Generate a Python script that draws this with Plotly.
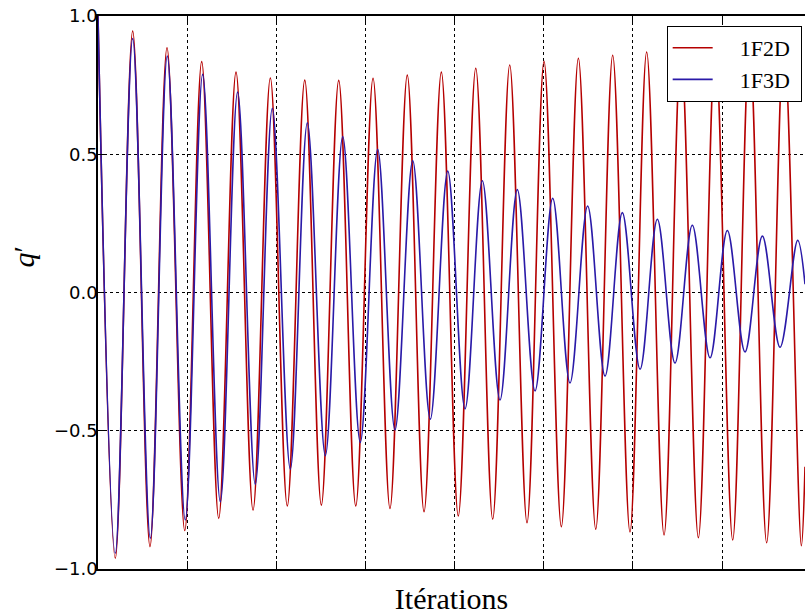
import plotly.graph_objects as go

# Iteration positions and values of the extrema
red_peak_x = [0, 389, 774, 1163, 1548, 1933, 2319, 2700, 3085, 3469, 3851,
              4237, 4618, 5003, 5388, 5773, 6154, 6539, 6924, 7308, 7693]
red_peak_y = [1.0, 0.946, 0.885, 0.835, 0.797, 0.776, 0.768, 0.767, 0.775, 0.786, 0.797,
              0.811, 0.823, 0.836, 0.847, 0.858, 0.870, 0.880, 0.890, 0.900, 0.910]
red_trough_x = [194, 583, 973, 1354, 1739, 2123, 2505, 2891, 3275, 3657,
                4041, 4427, 4812, 5197, 5583, 5967, 6349, 6734, 7119, 7500, 7889]
red_trough_y = [-0.961, -0.919, -0.861, -0.817, -0.787, -0.772, -0.769, -0.772, -0.781, -0.793,
                -0.808, -0.820, -0.833, -0.847, -0.856, -0.866, -0.877, -0.887, -0.895, -0.905, -0.916]
red_end_x = [7930]
red_end_y = [-0.63]

blue_peak_x = [0, 389, 777, 1174, 1566, 1955, 2348, 2745, 3137, 3530, 3923,
               4311, 4703, 5100, 5492, 5881, 6274, 6666, 7059, 7452, 7848]
blue_peak_y = [1.0, 0.918, 0.855, 0.789, 0.725, 0.666, 0.614, 0.564, 0.518, 0.477, 0.439,
               0.404, 0.372, 0.341, 0.313, 0.289, 0.265, 0.243, 0.224, 0.204, 0.189]
blue_trough_x = [194, 587, 979, 1372, 1764, 2157, 2550, 2942, 3331, 3727,
                 4117, 4509, 4902, 5294, 5687, 6080, 6472, 6865, 7257, 7650]
blue_trough_y = [-0.943, -0.889, -0.823, -0.757, -0.694, -0.639, -0.590, -0.542, -0.497, -0.458,
                 -0.421, -0.389, -0.356, -0.327, -0.302, -0.277, -0.255, -0.236, -0.215, -0.198]
blue_end_x = [7930]
blue_end_y = [0.03]

y_ticks = [-1.0, -0.5, 0.0, 0.5, 1.0]
y_tick_labels = ["\u22121.0", "\u22120.5", "0.0", "0.5", "1.0"]
x_ticks = [1000, 2000, 3000, 4000, 5000, 6000, 7000]
x_max = 7930

series_names = ["1F2D", "1F3D"]
colors = ["#b50000", "#2a1aa8"]


def merge(*parts):
    pts = []
    for xs, ys in parts:
        pts.extend(zip(xs, ys))
    pts.sort(key=lambda p: p[0])
    return [p[0] for p in pts], [p[1] for p in pts]


rx, ry = merge((red_peak_x, red_peak_y), (red_trough_x, red_trough_y), (red_end_x, red_end_y))
bx, by = merge((blue_peak_x, blue_peak_y), (blue_trough_x, blue_trough_y), (blue_end_x, blue_end_y))

pad = "\u00a0" * 4
fig = go.Figure()
fig.add_trace(go.Scatter(x=rx, y=ry, mode="lines", name=pad + series_names[0] + "\u00a0",
                         line=dict(color=colors[0], width=1.6, shape="spline", smoothing=1.0)))
fig.add_trace(go.Scatter(x=bx, y=by, mode="lines", name=pad + series_names[1] + "\u00a0",
                         line=dict(color=colors[1], width=1.6, shape="spline", smoothing=1.0)))

fig.update_layout(
    width=805, height=615,
    margin=dict(l=98, r=0, t=16, b=46, autoexpand=False),
    paper_bgcolor="white", plot_bgcolor="white",
    showlegend=True,
    legend=dict(x=0.9953, xanchor="right", y=0.982, yanchor="top",
                bordercolor="black", borderwidth=1, bgcolor="white",
                font=dict(family="Liberation Serif", size=22, color="black"),
                itemwidth=40, tracegroupgap=0),
    font=dict(family="DejaVu Sans", color="black"),
)
fig.update_xaxes(range=[0, x_max], tickvals=x_ticks, showticklabels=False,
                 ticks="inside", ticklen=8, tickcolor="black", tickwidth=1,
                 showline=True, linecolor="black", linewidth=1.5, mirror="ticks",
                 showgrid=True, gridcolor="black", griddash="dot", gridwidth=1,
                 zeroline=False, automargin=False,
                 title=dict(text="Itérations", font=dict(family="Liberation Serif", size=30),
                            standoff=21))
fig.update_yaxes(range=[-1, 1], tickvals=y_ticks, ticktext=y_tick_labels,
                 ticks="inside", ticklen=6, tickcolor="black", tickwidth=1,
                 tickfont=dict(family="DejaVu Sans", size=18, color="black"),
                 ticklabelstandoff=-5, ticklabeloverflow="allow",
                 showline=True, linecolor="black", linewidth=1.5, mirror=False,
                 showgrid=True, gridcolor="black", griddash="dot", gridwidth=1,
                 zeroline=False, automargin=False)
fig.add_annotation(text="<i>q</i>\u2032", xref="paper", yref="paper",
                   x=-0.106, y=0.565, xanchor="center", yanchor="middle",
                   textangle=-90, showarrow=False,
                   font=dict(family="Liberation Serif", size=30, color="black"))

fig.write_html("out.html", config={"displayModeBar": False},
               post_script="document.body.style.margin='0';document.body.style.overflow='hidden';")
